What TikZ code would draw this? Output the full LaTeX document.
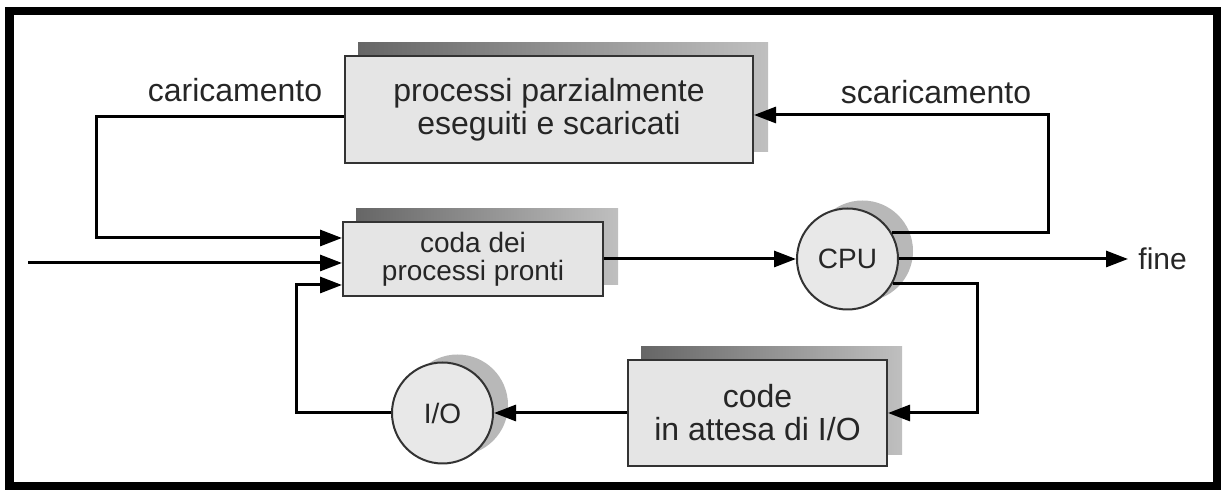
\documentclass[tikz,border=0pt]{standalone}
\usepackage{fontspec}
\setmainfont{Liberation Sans}
\usetikzlibrary{arrows.meta,backgrounds}

\begin{document}
\begin{tikzpicture}[x=0.5pt,y=-0.5pt,
    every node/.style={text=black!85,align=center,font=\fontsize{16}{16.5}\selectfont},
    queue/.style={draw=black!80,line width=1pt,fill=black!10,inner sep=0pt},
    unit/.style={circle,draw=black!80,line width=1pt,fill=black!9,minimum size=50.5pt,
      inner sep=0pt,font=\fontsize{14}{14}\selectfont},
    qshadow/.style={left color=black!60,right color=black!25},
    ushadow/.style={fill=black!28},
    flow/.style={line width=1.5pt,-{Triangle[length=11pt,width=8pt]}}]
  \useasboundingbox (0,0) rectangle (1221,490);
  \draw[line width=4.25pt] (9.5,11) rectangle (1217.5,486.5);

  \node[queue,minimum width=204pt,minimum height=53.5pt] (parz) at (549,109.5)
    {processi parzialmente\\eseguiti e scaricati};
  \node[queue,minimum width=130pt,minimum height=37pt,font=\fontsize{14}{14}\selectfont]
    (coda) at (473,259) {coda dei\\processi pronti};
  \node[unit] (cpu) at (847.5,259) {CPU};
  \node[queue,minimum width=129.5pt,minimum height=53pt] (attesa) at (757.5,413)
    {code\\in attesa di I/O};
  \node[unit] (io) at (442.5,413) {I/O};
  \node (car) at (235,90) {caricamento};
  \node (scar) at (936,92) {scaricamento};
  \node[anchor=west,inner xsep=5pt,font=\fontsize{15}{15}\selectfont] (fine) at (1128,259) {fine};

  \coordinate (in) at (28,263);
  \coordinate (c1) at (96,117);
  \coordinate (c2) at (96,238);
  \coordinate (s1) at (1048,115);
  \coordinate (w1) at (977,413);
  \coordinate (r1) at (296,413);
  \coordinate (r2) at (296,285);

  % shadows behind the queues and the units
  \begin{scope}[on background layer]
    \shade[qshadow] ([shift={(14,-12.5)}]parz.south west) rectangle ([shift={(14,-12.5)}]parz.north east);
    \shade[qshadow] ([shift={(14,-12.5)}]coda.south west) rectangle ([shift={(14,-12.5)}]coda.north east);
    \shade[qshadow] ([shift={(14,-12.5)}]attesa.south west) rectangle ([shift={(14,-12.5)}]attesa.north east);
    \fill[ushadow] ([shift={(15,-8)}]cpu.center) circle[radius=25.25pt];
    \fill[ushadow] ([shift={(15,-8)}]io.center) circle[radius=25.25pt];
  \end{scope}

  \draw[flow] (parz.west |- c1) -- (c1) -- (c2) -- (coda.west |- c2);
  \draw[flow] (in) -- (coda.west |- in);
  \draw[flow] (io.west) -- (r1) -- (r2) -- (coda.west |- r2);
  \draw[flow] (coda) -- (cpu);
  \draw[flow] (cpu.31) -| (s1) -- (parz.east |- s1);
  \draw[flow] (cpu) -- (fine);
  \draw[flow] (cpu.-28) -| (w1) -- (attesa.east);
  \draw[flow] (attesa) -- (io);
\end{tikzpicture}
\end{document}
